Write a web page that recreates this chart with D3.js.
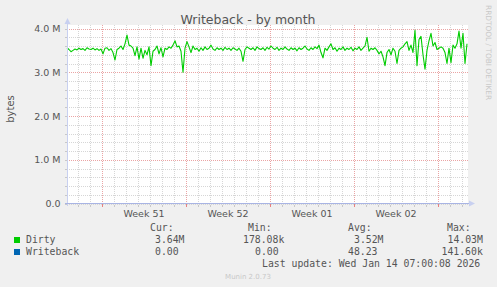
<!DOCTYPE html>
<html>
<head>
<meta charset="utf-8">
<script src="https://cdn.jsdelivr.net/npm/d3@7"></script>
<style>
  html, body { margin: 0; padding: 0; background: #f0f0f0; }
  svg { display: block; }
</style>
</head>
<body>
<div id="chart"></div>
<script>
// Munin "Writeback - by month" chart

const startTime = Date.UTC(2025, 11, 12, 2, 0);
const endTime = Date.UTC(2026, 0, 14, 10, 0);
const stepHours = 4;

// Dirty bytes, in millions, one sample every 4 hours
const dirtyValues = [
  3.56, 3.52, 3.47, 3.50, 3.53, 3.51, 3.55, 3.52, 3.54, 3.50,
  3.56, 3.53, 3.52, 3.55, 3.51, 3.54, 3.50, 3.53, 3.42, 3.55,
  3.56, 3.50, 3.54, 3.45, 3.28, 3.52, 3.55, 3.60, 3.52, 3.65,
  3.85, 3.62, 3.60, 3.55, 3.38, 3.58, 3.30, 3.55, 3.32, 3.50,
  3.40, 3.58, 3.15, 3.48, 3.52, 3.60, 3.42, 3.56, 3.35, 3.55,
  3.52, 3.58, 3.55, 3.62, 3.72, 3.58, 3.60, 3.48, 3.00, 3.55,
  3.70, 3.58, 3.45, 3.60, 3.52, 3.55, 3.48, 3.56, 3.50, 3.58,
  3.52, 3.55, 3.62, 3.53, 3.50, 3.56, 3.52, 3.55, 3.50, 3.57,
  3.52, 3.55, 3.50, 3.56, 3.53, 3.50, 3.55, 3.48, 3.25, 3.52,
  3.58, 3.55, 3.52, 3.56, 3.50, 3.58, 3.54, 3.52, 3.56, 3.50,
  3.57, 3.53, 3.60, 3.55, 3.52, 3.57, 3.50, 3.55, 3.52, 3.58,
  3.53, 3.50, 3.56, 3.52, 3.55, 3.49, 3.56, 3.52, 3.55, 3.60,
  3.53, 3.50, 3.56, 3.52, 3.58, 3.54, 3.62, 3.45, 3.33, 3.55,
  3.50, 3.58, 3.65, 3.52, 3.56, 3.48, 3.55, 3.52, 3.58, 3.50,
  3.55, 3.52, 3.57, 3.49, 3.55, 3.52, 3.58, 3.50, 3.55, 3.60,
  3.80, 3.48, 3.55, 3.52, 3.56, 3.50, 3.42, 3.48, 3.35, 3.15,
  3.45, 3.52, 3.40, 3.55, 3.48, 3.20, 3.50, 3.55, 3.58, 3.65,
  3.70, 3.50, 3.62, 3.45, 3.96, 3.15, 3.75, 3.82, 3.40, 3.07,
  3.50, 3.72, 3.89, 3.60, 3.68, 3.52, 3.55, 3.58, 3.55, 3.45,
  3.20, 3.55, 3.22, 3.62, 3.55, 3.65, 3.94, 3.55, 3.89, 3.20,
  3.65
];

// Writeback bytes, in millions (practically zero all month)
const writebackValues = [
  0, 0, 0, 0, 0, 0, 0, 0, 0, 0, 0, 0, 0, 0, 0, 0, 0, 0, 0, 0,
  0, 0, 0, 0, 0, 0, 0, 0, 0, 0, 0, 0, 0, 0, 0, 0, 0, 0, 0, 0,
  0, 0, 0, 0, 0, 0, 0, 0, 0, 0, 0, 0, 0, 0, 0, 0, 0, 0, 0, 0,
  0, 0, 0, 0, 0, 0, 0, 0, 0, 0, 0, 0, 0, 0, 0, 0, 0, 0, 0, 0,
  0, 0, 0, 0, 0, 0, 0, 0, 0, 0, 0, 0, 0, 0, 0, 0, 0, 0, 0, 0,
  0, 0, 0, 0, 0, 0, 0, 0, 0, 0, 0, 0, 0, 0, 0, 0, 0, 0, 0, 0,
  0, 0, 0, 0, 0, 0, 0, 0, 0, 0, 0, 0, 0, 0, 0, 0, 0, 0, 0, 0,
  0, 0, 0, 0, 0, 0, 0, 0, 0, 0, 0, 0, 0, 0, 0, 0, 0, 0, 0, 0,
  0, 0, 0, 0, 0, 0, 0, 0, 0, 0, 0, 0, 0, 0, 0, 0, 0, 0, 0, 0,
  0, 0, 0, 0, 0, 0, 0, 0, 0, 0, 0, 0, 0, 0, 0, 0, 0, 0, 0, 0,
  0
];

const yTickValues = [0, 1, 2, 3, 4];
const yTickLabels = ['0.0', '1.0 M', '2.0 M', '3.0 M', '4.0 M'];

const seriesNames = ['Dirty', 'Writeback'];
const seriesColors = ['#00cc00', '#0066b3'];
const legendHeaders = ['Cur:', 'Min:', 'Avg:', 'Max:'];
const dirtyStats = ['3.64M', '178.08k', '3.52M', '14.03M'];
const writebackStats = ['0.00', '0.00', '48.23', '141.60k'];

const W = 497, H = 287;
const plot = { left: 67, right: 467, top: 25, bottom: 203.5 };

const svg = d3.select('#chart').append('svg')
  .attr('width', W)
  .attr('height', H);

svg.append('rect').attr('width', W).attr('height', H).attr('fill', '#f0f0f0');

const x = d3.scaleUtc()
  .domain([new Date(startTime), new Date(endTime)])
  .range([plot.left, plot.right]);
const y = d3.scaleLinear()
  .domain([0, 4.08])
  .range([plot.bottom, plot.top]);

// plot background
svg.append('rect')
  .attr('x', plot.left).attr('y', plot.top)
  .attr('width', plot.right - plot.left + 1)
  .attr('height', plot.bottom - plot.top)
  .attr('fill', '#ffffff');

const grid = svg.append('g').attr('shape-rendering', 'crispEdges');

// minor vertical: every day
const days = d3.utcDay.range(new Date(startTime), new Date(endTime));
const mondays = d3.utcMonday.range(new Date(startTime), new Date(endTime));
const px = v => Math.round(v) + 0.5;

grid.selectAll('.vminor').data(days).enter().append('line')
  .attr('x1', d => px(x(d))).attr('x2', d => px(x(d)))
  .attr('y1', plot.top).attr('y2', plot.bottom)
  .attr('stroke', '#d6d6d6').attr('stroke-dasharray', '1,1');

// minor horizontal: every 0.2 M
const yMinor = d3.range(0, 4.01, 0.2);
grid.selectAll('.hminor').data(yMinor).enter().append('line')
  .attr('x1', plot.left).attr('x2', plot.right + 1)
  .attr('y1', d => px(y(d))).attr('y2', d => px(y(d)))
  .attr('stroke', '#d6d6d6').attr('stroke-dasharray', '1,1');

// major grid
grid.selectAll('.vmajor').data(mondays).enter().append('line')
  .attr('x1', d => px(x(d))).attr('x2', d => px(x(d)))
  .attr('y1', plot.top).attr('y2', plot.bottom)
  .attr('stroke', '#eaa4a4').attr('stroke-dasharray', '1,1');
grid.selectAll('.hmajor').data(yTickValues.slice(1)).enter().append('line')
  .attr('x1', plot.left).attr('x2', plot.right + 1)
  .attr('y1', d => px(y(d))).attr('y2', d => px(y(d)))
  .attr('stroke', '#eaa4a4').attr('stroke-dasharray', '1,1');

// bottom ticks
grid.selectAll('.dtick').data(days).enter().append('line')
  .attr('x1', d => px(x(d))).attr('x2', d => px(x(d)))
  .attr('y1', plot.bottom + 1).attr('y2', plot.bottom + 3)
  .attr('stroke', '#c8c8c8');
grid.selectAll('.wtick').data(mondays).enter().append('line')
  .attr('x1', d => px(x(d))).attr('x2', d => px(x(d)))
  .attr('y1', plot.bottom - 1).attr('y2', plot.bottom + 3)
  .attr('stroke', '#e88080');

// left ticks
grid.selectAll('.ltick').data(yMinor).enter().append('line')
  .attr('x1', plot.left - 2).attr('x2', plot.left)
  .attr('y1', d => px(y(d))).attr('y2', d => px(y(d)))
  .attr('stroke', '#c8c8c8');

// series lines
const times = dirtyValues.map((_, i) => new Date(startTime + i * stepHours * 3600e3));
const line = d3.line().x((d, i) => x(times[i])).y(d => y(d));

svg.append('path').datum(writebackValues)
  .attr('d', line).attr('fill', 'none')
  .attr('stroke', seriesColors[1]).attr('stroke-width', 1);

svg.append('path').datum(dirtyValues)
  .attr('d', line).attr('fill', 'none')
  .attr('stroke', seriesColors[0]).attr('stroke-width', 1.1)
  .attr('stroke-linejoin', 'round');

// axes lines with arrows
const axisCol = '#a8b4e4';
svg.append('line')
  .attr('x1', plot.left + 0.5).attr('x2', plot.left + 0.5)
  .attr('y1', plot.bottom + 2).attr('y2', plot.top - 2)
  .attr('stroke', '#c8d0f0').attr('shape-rendering', 'crispEdges');
svg.append('path')
  .attr('d', `M${plot.left - 2.5},${plot.top - 1}L${plot.left + 0.5},${plot.top - 7}L${plot.left + 3.5},${plot.top - 1}Z`)
  .attr('fill', '#c8d0f0');
svg.append('line')
  .attr('x1', plot.left - 2).attr('x2', plot.right + 3)
  .attr('y1', plot.bottom).attr('y2', plot.bottom)
  .attr('stroke', axisCol).attr('stroke-width', 1);
svg.append('path')
  .attr('d', `M${plot.right + 2},${plot.bottom - 3}L${plot.right + 8},${plot.bottom}L${plot.right + 2},${plot.bottom + 3}Z`)
  .attr('fill', '#c8d0f0');

// y labels
const sans = 'DejaVu Sans, sans-serif';
svg.selectAll('.ylab').data(yTickValues).enter().append('text')
  .attr('x', 60.5).attr('y', d => y(d) + 3.5)
  .attr('text-anchor', 'end')
  .attr('font-family', sans).attr('font-size', 9.5)
  .attr('fill', '#555')
  .text((d, i) => yTickLabels[i]);

// week labels
const weekFmt = d3.utcFormat('%V');
const weekLabels = mondays
  .map(m => ({ m, mid: d3.utcHour.offset(m, 84) }))
  .filter(d => d.mid < new Date(endTime));
svg.selectAll('.xlab').data(weekLabels).enter().append('text')
  .attr('x', d => x(d.mid)).attr('y', 216.5)
  .attr('text-anchor', 'middle')
  .attr('font-family', sans).attr('font-size', 9.5)
  .attr('fill', '#555')
  .text(d => 'Week ' + weekFmt(d.m));

// title
svg.append('text')
  .attr('x', 248).attr('y', 24)
  .attr('text-anchor', 'middle')
  .attr('font-family', sans).attr('font-size', 12.5)
  .attr('fill', '#555')
  .text('Writeback - by month');

// y axis title
svg.append('text')
  .attr('transform', 'translate(14,109) rotate(-90)')
  .attr('text-anchor', 'middle')
  .attr('font-family', sans).attr('font-size', 10)
  .attr('fill', '#555')
  .text('bytes');

// rrdtool watermark
svg.append('text')
  .attr('transform', 'translate(486,5) rotate(90)')
  .attr('font-family', sans).attr('font-size', 7.4)
  .attr('fill', '#c8c8c8')
  .text('RRDTOOL / TOBI OETIKER');

// legend
const mono = 'DejaVu Sans Mono, monospace';
const headerX = [150, 248, 348, 447];
svg.selectAll('.lh').data(legendHeaders).enter().append('text')
  .attr('x', (d, i) => headerX[i]).attr('y', 231)
  .attr('font-family', mono).attr('font-size', 9.8)
  .attr('fill', '#555')
  .text(d => d);

const rows = [
  { name: seriesNames[0], color: seriesColors[0], stats: dirtyStats, y: 243, xs: [155, 243, 354, 447.5] },
  { name: seriesNames[1], color: seriesColors[1], stats: writebackStats, y: 255, xs: [155, 255, 348, 441.5] }
];
rows.forEach(r => {
  svg.append('rect')
    .attr('x', 14).attr('y', r.y - 6)
    .attr('width', 6).attr('height', 6)
    .attr('fill', r.color);
  svg.append('text')
    .attr('x', 26).attr('y', r.y)
    .attr('font-family', mono).attr('font-size', 9.8)
    .attr('fill', '#555')
    .text(r.name);
  r.stats.forEach((s, i) => {
    svg.append('text')
      .attr('x', r.xs[i]).attr('y', r.y)
      .attr('font-family', mono).attr('font-size', 9.8)
      .attr('fill', '#555')
      .text(s);
  });
});

svg.append('text')
  .attr('x', 262).attr('y', 267)
  .attr('font-family', mono).attr('font-size', 9.8)
  .attr('fill', '#555')
  .text('Last update: Wed Jan 14 07:00:08 2026');

svg.append('text')
  .attr('x', 248).attr('y', 279)
  .attr('text-anchor', 'middle')
  .attr('font-family', sans).attr('font-size', 7)
  .attr('fill', '#c8c8c8')
  .text('Munin 2.0.73');
</script>
</body>
</html>
